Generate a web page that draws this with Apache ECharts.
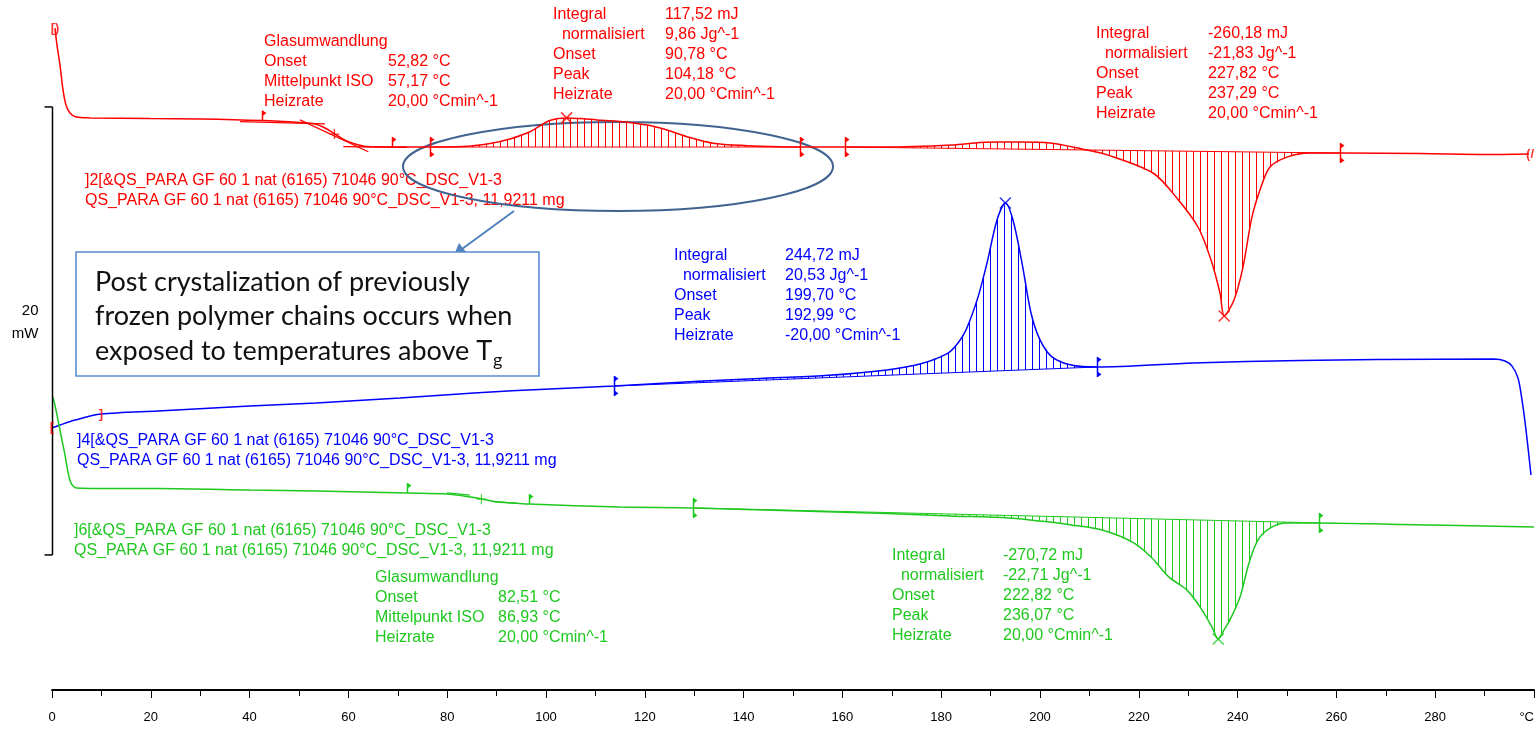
<!DOCTYPE html>
<html><head><meta charset="utf-8">
<script src="https://cdn.jsdelivr.net/npm/echarts@6/dist/echarts.min.js"></script>
<style>html,body{margin:0;padding:0;background:#fff}#c{width:1538px;height:730px}</style>
</head><body><div id="c"></div>
<script>
// ---------- data (temperature °C, heat flow mW, curves offset as in the plot) ----------
const xTickLabels = ['0','20','40','60','80','100','120','140','160','180','200','220','240','260','280','°C'];

const redCurve = [[0.61,29.55],[1.01,28.79],[1.62,27.90],[2.23,26.79],[2.83,26.12],[3.64,25.76],[4.86,25.58],[7.69,25.54],
 [19.84,25.51],[29.96,25.49],[42.51,25.42],[50.20,25.33],[53.24,25.27],[55.26,25.09],[57.29,24.82],[59.31,24.55],[61.34,24.38],
 [63.77,24.26],[68.83,24.24],[76.52,24.24],[83.20,24.26],[88.66,24.40],[92.71,24.60],[96.76,24.92],[100.20,25.37],[102.43,25.51],
 [104.18,25.54],[106.88,25.51],[110.32,25.45],[114.98,25.38],[120.45,25.22],[124.49,25.00],[128.54,24.70],[133.81,24.41],
 [140.69,24.30],[147.37,24.25],[151.42,24.24],[160.53,24.24],[168.62,24.24],[182.19,24.33],[187.85,24.44],[191.90,24.46],
 [195.75,24.46],[202.02,24.42],[208.50,24.15],[213.77,23.88],[222.87,23.08],[227.53,22.01],[231.98,20.67],[234.62,19.20],
 [236.44,17.72],[237.29,16.70],[239.27,17.41],[241.09,18.88],[242.91,21.12],[244.74,22.46],[246.56,23.35],[250.00,23.79],
 [254.66,23.97],[261.34,23.97],[276.92,23.95],[291.09,23.91],[298.99,23.93]];

const blueCurve = [[0,11.70],[1.62,11.83],[4.66,12.05],[9.92,12.32],[21.46,12.46],[40.08,12.68],[53.44,12.81],[70.45,13.04],
 [85.43,13.26],[100.81,13.44],[113.77,13.57],[131.78,13.79],[143.32,13.91],[156.48,14.04],[169.03,14.29],[175.71,14.55],
 [181.38,15.04],[183.40,15.49],[185.02,16.07],[187.45,17.54],[189.27,19.06],[191.30,20.98],[192.99,21.74],[194.53,20.98],
 [196.36,19.06],[198.18,16.83],[200.00,15.63],[202.43,14.87],[206.28,14.51],[211.54,14.42],[230.97,14.60],[252.63,14.71],
 [268.22,14.75],[291.90,14.78],[294.13,14.69],[295.55,14.46],[296.76,13.93],[297.57,12.95],[298.38,11.61],[299.39,9.60]];

const greenCurve = [[0.2,13.08],[0.81,12.50],[1.42,11.83],[2.02,11.16],[2.63,10.49],[3.24,9.73],[3.85,9.24],[5.06,9.02],
 [9.72,9.00],[21.46,9.00],[40.08,8.93],[53.44,8.88],[71.86,8.79],[79.96,8.75],[84.62,8.62],[87.04,8.53],[90.28,8.39],
 [93.52,8.35],[96.56,8.30],[114.98,8.17],[129.76,8.13],[151.42,7.99],[169.03,7.88],[181.78,7.77],[193.72,7.68],[200.0,7.54],
 [206.28,7.37],[212.55,7.14],[218.62,6.61],[222.47,5.94],[226.11,5.04],[229.76,4.46],[232.39,3.71],[234.82,2.81],
 [236.07,2.28],[237.25,2.68],[238.46,3.13],[240.49,4.15],[242.31,5.67],[244.13,6.70],[246.56,7.23],[249.80,7.46],
 [256.48,7.46],[272.87,7.39],[300,7.28]];

// integration regions: [curve index, start °C, baseline start mW, end °C, baseline end mW]
const hatchRegions = [[0,76.52,24.24,151.42,24.24],[0,160.53,24.24,260.7,23.97],[1,113.77,13.57,211.54,14.42],[2,129.76,8.13,256.48,7.46]];
// peaks (°C, mW) per curve
const peakRed = [[104.18,25.54],[237.29,16.70]];
const peakBlue = [[192.99,21.74]];
const peakGreen = [[236.07,2.28]];
// glass transition midpoints
const midRed = [[57.17,24.82]];
const midGreen = [[86.93,8.52]];
// evaluation limit flags: [°C, mW, both sides?, curve]
const flags = [[42.5,25.42,0,0],[68.8,24.24,0,0],[76.52,24.24,1,0],[151.42,24.24,1,0],[160.53,24.24,1,0],[260.7,23.97,1,0],
 [113.77,13.57,1,1],[211.54,14.42,1,1],[71.86,8.79,0,2],[96.56,8.30,0,2],[129.76,8.13,1,2],[256.48,7.46,1,2]];
// tangents of glass transitions: [x1,y1,x2,y2,curve]
const tangents = [[38.06,25.37,55.26,25.27,0],[50.2,25.45,64.03,24.03,0],[58.97,24.26,71.8,24.23,0],
 [79.96,8.80,84.6,8.70,2],[89.3,8.42,94.1,8.33,2]];
// scale bar: 20 mW
const scaleBar = [[0,6.03,26.03]];
const scaleLabel = ['20','mW'];

// ---------- text ----------
const redCol = '#ff0000', blueCol = '#0000ff', greenCol = '#1ec81e';
const colors = [redCol, blueCol, greenCol];
const blocks = [
 {c:0, x:264, vx:388, y:41, l:['Glasumwandlung','Onset','Mittelpunkt ISO','Heizrate'], v:['','52,82 °C','57,17 °C','20,00 °Cmin^-1']},
 {c:0, x:553, vx:665, y:14, l:['Integral','  normalisiert','Onset','Peak','Heizrate'], v:['117,52 mJ','9,86 Jg^-1','90,78 °C','104,18 °C','20,00 °Cmin^-1']},
 {c:0, x:1096, vx:1208, y:33, l:['Integral','  normalisiert','Onset','Peak','Heizrate'], v:['-260,18 mJ','-21,83 Jg^-1','227,82 °C','237,29 °C','20,00 °Cmin^-1']},
 {c:1, x:674, vx:785, y:255, l:['Integral','  normalisiert','Onset','Peak','Heizrate'], v:['244,72 mJ','20,53 Jg^-1','199,70 °C','192,99 °C','-20,00 °Cmin^-1']},
 {c:2, x:375, vx:498, y:577, l:['Glasumwandlung','Onset','Mittelpunkt ISO','Heizrate'], v:['','82,51 °C','86,93 °C','20,00 °Cmin^-1']},
 {c:2, x:892, vx:1003, y:555, l:['Integral','  normalisiert','Onset','Peak','Heizrate'], v:['-270,72 mJ','-22,71 Jg^-1','222,82 °C','236,07 °C','20,00 °Cmin^-1']},
 {c:0, x:85, vx:0, y:180, l:[']2[&QS_PARA GF 60 1 nat (6165) 71046 90°C_DSC_V1-3','QS_PARA GF 60 1 nat (6165) 71046 90°C_DSC_V1-3, 11,9211 mg'], v:[]},
 {c:1, x:77, vx:0, y:440, l:[']4[&QS_PARA GF 60 1 nat (6165) 71046 90°C_DSC_V1-3','QS_PARA GF 60 1 nat (6165) 71046 90°C_DSC_V1-3, 11,9211 mg'], v:[]},
 {c:2, x:74, vx:0, y:530, l:[']6[&QS_PARA GF 60 1 nat (6165) 71046 90°C_DSC_V1-3','QS_PARA GF 60 1 nat (6165) 71046 90°C_DSC_V1-3, 11,9211 mg'], v:[]}
];
const noteLines = ['Post crystalization of previously','frozen polymer chains occurs when','exposed to temperatures above T'];
const noteSub = 'g';

const FONT = '"Liberation Sans", Arial, sans-serif';
const curves = [redCurve, blueCurve, greenCurve];

function hatchPattern(color){
  const c = document.createElement('canvas'); c.width = 7; c.height = 7;
  const g = c.getContext('2d'); g.fillStyle = color; g.fillRect(3,0,1,7);
  return {image:c, repeat:'repeat'};
}
const patterns = colors.map(hatchPattern);

const graphics = [];
blocks.forEach(b => {
  graphics.push({type:'text', x:b.x, y:b.y-10, silent:true, style:{text:b.l.join('\n'), fill:colors[b.c], font:'16px '+FONT, lineHeight:20.2, verticalAlign:'top'}});
  if (b.v.length) graphics.push({type:'text', x:b.vx, y:b.y-10, silent:true, style:{text:b.v.join('\n'), fill:colors[b.c], font:'16px '+FONT, lineHeight:20.2, verticalAlign:'top'}});
});
// ellipse, arrow, note box
graphics.push({type:'ellipse', shape:{cx:618, cy:166.5, rx:215, ry:44.5}, style:{fill:'none', stroke:'#41638f', lineWidth:2}, silent:true});
graphics.push({type:'line', shape:{x1:514, y1:211, x2:462, y2:249}, style:{stroke:'#4f81bd', lineWidth:2}, silent:true});
graphics.push({type:'polygon', shape:{points:[[454,255],[459,243],[466,252]]}, style:{fill:'#4f81bd'}, silent:true});
graphics.push({type:'rect', shape:{x:76, y:252, width:463, height:124}, style:{fill:'#fff', stroke:'#5b8bd0', lineWidth:1.6}, silent:true});
graphics.push({type:'text', x:95, y:265, silent:true, style:{text:noteLines.join('\n'), fill:'#111', font:'27px Lato, "Open Sans", sans-serif', lineHeight:34.5, verticalAlign:'top'}});
graphics.push({type:'text', x:493, y:351, silent:true, style:{text:noteSub, fill:'#111', font:'18px Lato, "Open Sans", sans-serif', verticalAlign:'top'}});

function lineSeries(data, col){
  return {type:'line', data:data, smooth:0.3, symbol:'none', lineStyle:{color:col, width:1.5}, z:3, silent:true};
}
function crossSeries(data, col){
  return {type:'scatter', data:data, symbol:'path://M0,0L10,10M10,0L0,10', symbolSize:11,
    itemStyle:{color:'none', borderColor:col, borderWidth:1.5}, z:5, silent:true};
}
function plusSeries(data, col){
  return {type:'scatter', data:data, symbol:'path://M5,0L5,10M0,5L10,5', symbolSize:10,
    itemStyle:{color:'none', borderColor:col, borderWidth:1.3}, z:5, silent:true};
}

const option = {
  animation:false,
  backgroundColor:'#fff',
  grid:{left:52, right:4, top:18, bottom:40},
  xAxis:{type:'value', min:0, max:300, interval:20,
    axisLine:{show:true, lineStyle:{color:'#000', width:2}},
    axisTick:{show:true, length:8, lineStyle:{color:'#000', width:1}},
    minorTick:{show:true, splitNumber:2, length:6, lineStyle:{color:'#000', width:1}},
    splitLine:{show:false}, minorSplitLine:{show:false},
    axisLabel:{color:'#000', fontFamily:FONT, fontSize:13, margin:21, showMaxLabel:true, alignMaxLabel:'right',
      formatter:(v)=>xTickLabels[Math.round(v/20)]}},
  yAxis:{type:'value', min:0, max:30, show:false},
  graphic:graphics,
  series:[
    {type:'custom', silent:true, z:2, data:hatchRegions.map(r=>[r[1],r[2]]),
      renderItem:(params, api)=>{
        const r = hatchRegions[params.dataIndex];
        const curve = curves[r[0]];
        const pts = [api.coord([r[1], r[2]])];
        curve.forEach(p=>{ if (p[0] > r[1] && p[0] < r[3]) pts.push(api.coord(p)); });
        pts.push(api.coord([r[3], r[4]]));
        return {type:'group', children:[
          {type:'polygon', shape:{points:pts}, style:{fill:patterns[r[0]]}},
          {type:'line', shape:{x1:pts[0][0], y1:pts[0][1], x2:pts[pts.length-1][0], y2:pts[pts.length-1][1]}, style:{stroke:colors[r[0]], lineWidth:1}}
        ]};
      }},
    lineSeries(redCurve, redCol),
    lineSeries(blueCurve, blueCol),
    lineSeries(greenCurve, greenCol),
    crossSeries(peakRed, redCol), crossSeries(peakBlue, blueCol), crossSeries(peakGreen, greenCol),
    plusSeries(midRed, redCol), plusSeries(midGreen, greenCol),
    {type:'custom', silent:true, z:4, data:tangents,
      renderItem:(params, api)=>{
        const a = api.coord([api.value(0), api.value(1)]), b = api.coord([api.value(2), api.value(3)]);
        return {type:'line', shape:{x1:a[0], y1:a[1], x2:b[0], y2:b[1]}, style:{stroke:colors[api.value(4)], lineWidth:1.3}};
      }},
    {type:'custom', silent:true, z:6, data:flags,
      renderItem:(params, api)=>{
        const p = api.coord([api.value(0), api.value(1)]);
        const both = api.value(2), col = colors[api.value(3)];
        const x = Math.round(p[0]) + 0.5, y = p[1];
        const ch = [{type:'line', shape:{x1:x, y1:y-10, x2:x, y2: both ? y+10 : y}, style:{stroke:col, lineWidth:1.5}},
          {type:'polygon', shape:{points:[[x,y-10],[x+4,y-7.5],[x,y-4.5]]}, style:{fill:col}}];
        if (both) ch.push({type:'polygon', shape:{points:[[x,y+4.5],[x+4,y+7.5],[x,y+10]]}, style:{fill:col}});
        return {type:'group', children:ch};
      }},
    {type:'custom', silent:true, clip:false, z:6, data:scaleBar,
      renderItem:(params, api)=>{
        const top = api.coord([api.value(0), api.value(2)]), bot = api.coord([api.value(0), api.value(1)]);
        const x = top[0] + 0.5, mid = (top[1] + bot[1]) / 2;
        return {type:'group', children:[
          {type:'line', shape:{x1:x, y1:top[1], x2:x, y2:bot[1]}, style:{stroke:'#000', lineWidth:1.5}},
          {type:'line', shape:{x1:x-8, y1:top[1], x2:x, y2:top[1]}, style:{stroke:'#000', lineWidth:1.5}},
          {type:'line', shape:{x1:x-8, y1:bot[1], x2:x, y2:bot[1]}, style:{stroke:'#000', lineWidth:1.5}},
          {type:'text', x:x-14, y:mid-20, style:{text:scaleLabel[0], fill:'#000', font:'15px '+FONT, align:'right', verticalAlign:'middle'}},
          {type:'text', x:x-14, y:mid+3, style:{text:scaleLabel[1], fill:'#000', font:'15px '+FONT, align:'right', verticalAlign:'middle'}}
        ]};
      }},
    {type:'scatter', silent:true, z:7, symbolSize:0,
      data:[[0,11.70,'['],[9.92,12.32,']'],[0.61,29.55,'[)'],[299.2,23.93,'(/']],
      label:{show:true, position:'inside', color:redCol, fontFamily:FONT, fontSize:13, fontWeight:'bold', formatter:(p)=>p.value[2]}}
  ]
};
const chart = echarts.init(document.getElementById('c'));
chart.setOption(option);
</script>
</body></html>
